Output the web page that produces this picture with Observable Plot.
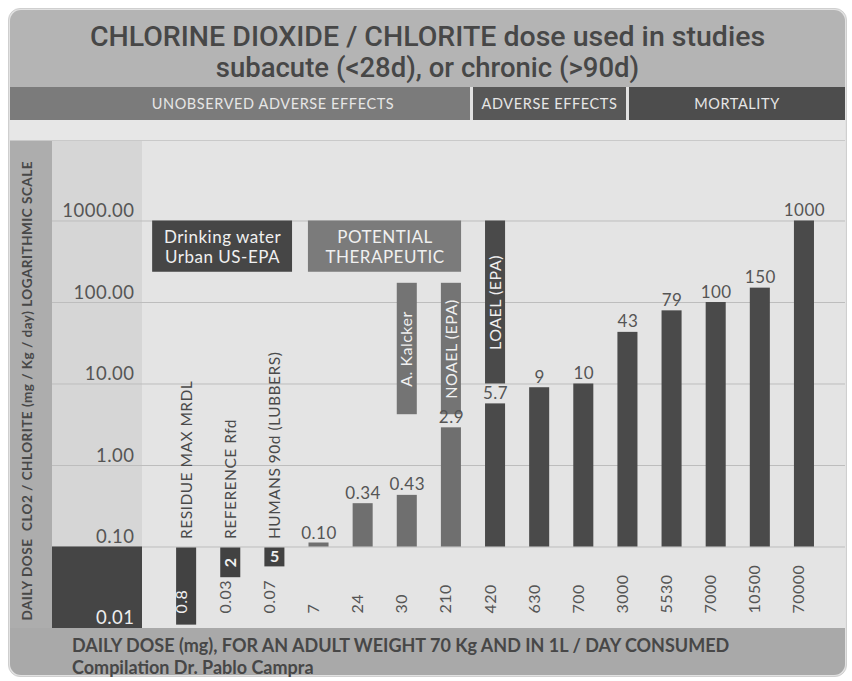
<!DOCTYPE html>
<html>
<head>
<meta charset="utf-8">
<script src="https://cdn.jsdelivr.net/npm/d3@7"></script>
<script src="https://cdn.jsdelivr.net/npm/@observablehq/plot@0.6"></script>
<style>
  body { margin: 0; background: #ffffff; font-family: Lato, "Open Sans", sans-serif; }
  #wrap { position: relative; width: 852px; height: 681px; overflow: hidden; }
  .abs { position: absolute; }
  #outer { left: 8px; top: 8px; width: 837px; height: 667px; border-radius: 12px; background: #e2e2e2; border: 1px solid #cfcfcf; }
  #title { left: 10px; top: 10px; width: 835px; height: 77px; background: #b4b4b4; border-radius: 11px 11px 0 0;
           color: #474747; font-family: Roboto, sans-serif; font-weight: 500; font-size: 28.5px; text-align: center; }
  #title div { position: absolute; left: 0; width: 100%; line-height: 32px; white-space: nowrap; }
  .band { top: 87px; height: 33px; line-height: 33px; color: #e6e6e6; font-size: 14.5px; letter-spacing: 0.6px; text-align: center; box-sizing: border-box; }
  #topgap { left: 10px; top: 120px; width: 835px; height: 20px; background: #e7e7e7; border-bottom: 1px solid #c9c9c9; }
  #strip { left: 10px; top: 141px; width: 42px; height: 487px; background: #adadad; }
  #tickcol { left: 52px; top: 141px; width: 90px; height: 487px; background: #d6d6d6; }
  #plotbg { left: 142px; top: 141px; width: 703px; height: 487px; background: #e4e4e4; }
  #bottom { left: 10px; top: 628px; width: 835px; height: 47px; background: #a9a9a9; border-radius: 0 0 11px 11px;
            color: #474747; font-weight: bold; font-size: 18px; }
  #bottom div { position: absolute; left: 62px; white-space: nowrap; line-height: 20px; }
  #chart { left: 10px; top: 128px; }
  #chart svg text { letter-spacing: 0.5px; }
</style>
</head>
<body>
<div id="wrap">
  <div id="outer" class="abs"></div>
  <div id="title" class="abs">
    <div style="top:11px">CHLORINE DIOXIDE / CHLORITE dose used in studies</div>
    <div style="top:42px;font-size:27.5px">subacute (&lt;28d), or chronic (&gt;90d)</div>
  </div>
  <div class="abs band" style="left:10px;width:460px;padding-left:66px;background:#7b7b7b">UNOBSERVED ADVERSE EFFECTS</div>
  <div class="abs band" style="left:473px;width:153px;background:#585858">ADVERSE EFFECTS</div>
  <div class="abs band" style="left:629px;width:216px;background:#4d4d4d">MORTALITY</div>
  <div id="topgap" class="abs"></div>
  <div id="strip" class="abs"></div>
  <div id="tickcol" class="abs"></div>
  <div id="plotbg" class="abs"></div>
  <div id="bottom" class="abs">
    <div style="top:7px">DAILY DOSE (mg), FOR AN ADULT WEIGHT 70 Kg AND IN 1L / DAY CONSUMED</div>
    <div style="top:29px">Compilation Dr. Pablo Campra</div>
  </div>
  <div id="chart" class="abs"></div>
</div>
<script>
// ---- data ----
// daily dose (mg) for each column (x-axis labels)
const doseMg = ["0.8", "0.03", "0.07", "7", "24", "30", "210", "420", "630", "700", "3000", "5530", "7000", "10500", "70000"];
// daily dose mg/kg/day (bar values, log scale)
const doseKg = [null, null, null, 0.10, 0.34, 0.43, 2.9, 5.7, 9, 10, 43, 79, 100, 150, 1000];
const doseKgLabels = ["", "", "", "0.10", "0.34", "0.43", "2.9", "5.7", "9", "10", "43", "79", "100", "150", "1000"];
// group of each bar: "unobserved" (potential therapeutic) or "adverse"
const barGroup = [null, null, null, "unobserved", "unobserved", "unobserved", "unobserved",
                  "adverse", "adverse", "adverse", "adverse", "adverse", "adverse", "adverse", "adverse"];
// reference values (drinking water, US-EPA)
const refLabels = ["RESIDUE MAX MRDL", "REFERENCE Rfd", "HUMANS 90d (LUBBERS)"];
const refBoxText = ["", "2", "5"];
const refEnds = [0.011, 0.042, 0.057];
// y axis ticks
const yTicks = [0.1, 1, 10, 100, 1000];
const yTickLabels = ["0.10", "1.00", "10.00", "100.00", "1000.00"];
const yMin = 0.01, yMinLabel = "0.01";
const yTitle = "DAILY DOSE\u00a0 CLO2 / CHLORITE (mg / Kg / day) LOGARITHMIC SCALE";
// annotations (column index span, dose span)
const noteTexts = ["Drinking water\nUrban US-EPA", "POTENTIAL\nTHERAPEUTIC", "A. Kalcker", "NOAEL (EPA)", "LOAEL (EPA)"];
const noteFrom = [-0.77, 2.76, 4.773, 5.773, 6.773];
const noteTo = [2.40, 6.23, 5.227, 6.227, 7.227];
const noteTop = [1000, 1000, 172, 172, 1000];
const noteBottom = [235, 235, 4.2, 4.2, 10];

// ---- styles ----
const HW = 0.227;
const baseline = 0.1;
const groupFill = {unobserved: "#6f6f6f", adverse: "#4a4a4a"};
const noteFill = ["#464646", "#7b7b7b", "#747474", "#747474", "#4a4a4a"];
const noteRotate = [0, 0, -90, -90, -90];
const textGray = "#555555";

const cols = d3.range(doseMg.length);
const barIdx = cols.filter(i => doseKg[i] != null);
const tallBars = barIdx.filter(i => doseKg[i] > baseline);
const flatBars = barIdx.filter(i => doseKg[i] <= baseline);
const refIdx = d3.range(refLabels.length);
const noteIdx = d3.range(noteTexts.length);

const chart = Plot.plot({
  width: 837,
  height: 500,
  marginLeft: 132,
  marginRight: 2,
  marginTop: 11,
  marginBottom: 0,
  x: {type: "linear", domain: [-1, 14.93], axis: null},
  y: {type: "log", domain: [yMin, 10000], axis: null},
  color: {type: "identity"},
  style: {background: "transparent", fontFamily: "Lato, 'Open Sans', sans-serif", overflow: "visible"},
  marks: [
    Plot.ruleY(yTicks, {y: d => d, stroke: "#bdbdbd", strokeWidth: 1, insetLeft: -90}),
    // dark box in tick column for the lowest decade
    Plot.rect([yMin], {y1: () => baseline, y2: d => d, fill: "#454545", insetLeft: -90, insetRight: 703}),
    Plot.text(yTicks, {y: d => d, text: (d, i) => yTickLabels[i], frameAnchor: "left", dx: -8, textAnchor: "end",
      lineAnchor: "bottom", dy: -4, fontSize: 18.5, fill: textGray}),
    Plot.text([yMin], {y: d => d, text: () => yMinLabel, frameAnchor: "left", dx: -8, textAnchor: "end",
      lineAnchor: "bottom", dy: -5, fontSize: 18.5, fill: "#eeeeee"}),
    Plot.text([yTitle], {text: d => d, frameAnchor: "bottom-left", dx: -111, dy: -8, rotate: -90, textAnchor: "start",
      fontSize: 13.5, fontWeight: "bold", fill: "#484848"}),
    // annotation boxes
    Plot.rect(noteIdx, {x1: i => noteFrom[i], x2: i => noteTo[i], y1: i => noteBottom[i], y2: i => noteTop[i], fill: i => noteFill[i]}),
    Plot.text(noteIdx.filter(i => noteRotate[i] === 0), {x: i => (noteFrom[i] + noteTo[i]) / 2,
      y: i => Math.sqrt(noteTop[i] * noteBottom[i]), text: i => noteTexts[i], fontSize: 17, lineHeight: 1.2, fill: "#f0f0f0"}),
    Plot.text(noteIdx.filter(i => noteRotate[i] !== 0), {x: i => (noteFrom[i] + noteTo[i]) / 2,
      y: i => Math.sqrt(noteTop[i] * noteBottom[i]), text: i => noteTexts[i], rotate: -90, fontSize: 16, fill: "#f0f0f0"}),
    // reference (hanging) bars
    Plot.rect(refIdx, {x1: i => i - HW, x2: i => i + HW, y1: () => baseline, y2: i => refEnds[i], fill: "#424242", insetTop: 1}),
    Plot.text(refIdx.filter(i => i === 1), {x: i => i, y: i => Math.sqrt(baseline * refEnds[i]), text: i => refBoxText[i],
      rotate: -90, fontSize: 16, fontWeight: "bold", fill: "#f0f0f0"}),
    Plot.text(refIdx.filter(i => i === 2), {x: i => i, y: i => Math.sqrt(baseline * refEnds[i]), text: i => refBoxText[i],
      fontSize: 16, fontWeight: "bold", fill: "#f0f0f0"}),
    Plot.text(refIdx, {x: i => i, y: () => baseline, text: i => refLabels[i], rotate: -90, textAnchor: "start", dy: -8,
      fontSize: 15.5, fill: "#4a4a4a"}),
    // bars
    Plot.rect(tallBars, {x1: i => i - HW, x2: i => i + HW, y1: () => baseline, y2: i => doseKg[i], fill: i => groupFill[barGroup[i]]}),
    Plot.rect(flatBars, {x1: i => i - HW, x2: i => i + HW, y1: () => baseline, y2: i => doseKg[i], fill: i => groupFill[barGroup[i]], insetTop: -4}),
    Plot.text(tallBars, {x: i => i, y: i => doseKg[i], text: i => doseKgLabels[i], lineAnchor: "bottom", dy: -5, fontSize: 17, fill: textGray}),
    Plot.text(flatBars, {x: i => i, y: i => doseKg[i], text: i => doseKgLabels[i], lineAnchor: "bottom", dy: -8, fontSize: 17, fill: textGray}),
    // x labels (daily dose in mg)
    Plot.text(cols, {x: i => i, text: i => doseMg[i], frameAnchor: "bottom", dy: -15, rotate: -90, textAnchor: "start",
      fontSize: 16, fill: i => (i === 0 ? "#eeeeee" : textGray)})
  ]
});
document.getElementById("chart").appendChild(chart);
</script>
</body>
</html>
